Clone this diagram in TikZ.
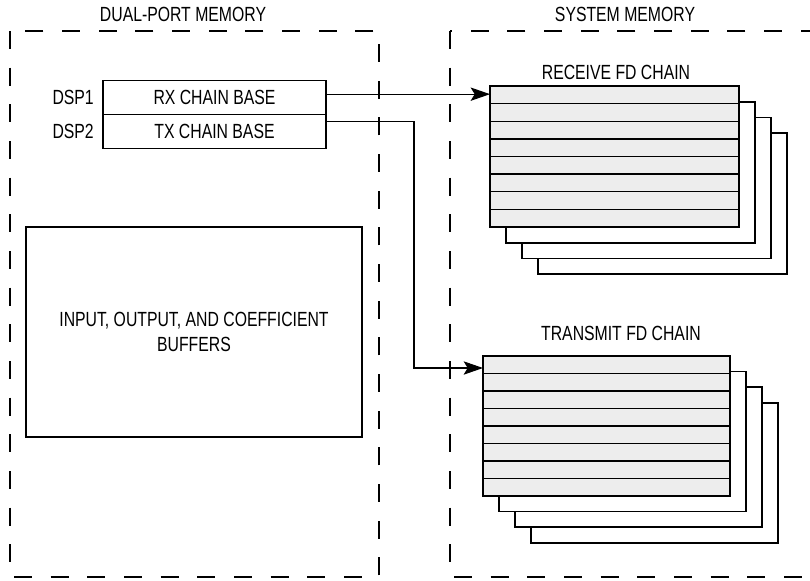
\documentclass[tikz,border=0pt]{standalone}
\usepackage{fontspec}
\setmainfont{Liberation Sans}[FakeStretch=0.77]
\usetikzlibrary{arrows.meta,calc}
\begin{document}
\begin{tikzpicture}[x=0.03cm,y=-0.03cm,
  font=\fontsize{17.5}{20}\selectfont,
  frame/.style={line width=1.7pt,dash pattern=on 0.54cm off 0.56cm},
  label/.style={inner sep=0pt},
  regbox/.style={draw,line width=1.5pt,inner sep=0pt,outer sep=0pt,minimum width=6.69cm,minimum height=1.02cm},
  bufbox/.style={draw,line width=1.5pt,inner sep=0pt,outer sep=0pt,minimum width=10.08cm,minimum height=6.3cm,align=center,font=\fontsize{17.5}{22}\selectfont},
  rxcard/.style={draw,line width=1.5pt,fill=white,inner sep=0pt,outer sep=0pt,minimum width=7.47cm,minimum height=4.23cm,anchor=north west},
  txcard/.style={draw,line width=1.5pt,fill=white,inner sep=0pt,outer sep=0pt,minimum width=7.41cm,minimum height=4.2cm,anchor=north west},
  front/.style={fill=gray!14},
  rowline/.style={line width=1.1pt},
  conn/.style={line width=0.9pt,-{Stealth[length=0.58cm,width=0.4cm,inset=0.12cm]}}
]
\useasboundingbox (0,0) rectangle (810,580);
\clip (0,0) rectangle (810,580);

% frames
\draw[frame] (10,31) rectangle (379,577);
\draw[frame] (450,31) rectangle (840,577);
\node[label] (dpm) at (183,14) {DUAL-PORT MEMORY};
\node[label] (sm) at (625,14) {SYSTEM MEMORY};

% chain base registers
\node[regbox] (rx) at (214.5,97.5) {RX CHAIN BASE};
\node[regbox] (tx) at (214.5,131.5) {TX CHAIN BASE};
\node[label,anchor=east] (dsp1) at (94,97.5) {DSP1};
\node[label,anchor=east] (dsp2) at (94,131.5) {DSP2};

% buffers
\node[bufbox] (buf) at (194,332) {INPUT, OUTPUT, AND COEFFICIENT\\BUFFERS};

% receive stack
\node[rxcard] (rx4) at (538,133) {};
\node[rxcard] (rx3) at (522,117.5) {};
\node[rxcard] (rx2) at (506,102) {};
\node[rxcard,front] (rxf) at (490,86) {};
\foreach \i in {1,...,7}
  \draw[rowline] ($(rxf.north west)!\i/8!(rxf.south west)$) -- ($(rxf.north east)!\i/8!(rxf.south east)$);
\node[label] (rxl) at (616,72) {RECEIVE FD CHAIN};

% transmit stack
\node[txcard] (tx4) at (531,403) {};
\node[txcard] (tx3) at (515,387) {};
\node[txcard] (tx2) at (499,371.5) {};
\node[txcard,front] (txf) at (483,356) {};
\foreach \i in {1,...,7}
  \draw[rowline] ($(txf.north west)!\i/8!(txf.south west)$) -- ($(txf.north east)!\i/8!(txf.south east)$);
\node[label] (txl) at (621,333) {TRANSMIT FD CHAIN};

% connectors
\coordinate (rxout) at ([yshift=0.1cm]rx.east);
\draw[conn] (rxout) -- (rxout -| rxf.west);
\coordinate (txout) at ([yshift=0.3cm]tx.east);
\coordinate (txin) at ([yshift=-0.36cm]txf.north west);
\coordinate (bendx) at (414,0);
\draw[conn] (txout) -- (txout -| bendx) -- (bendx |- txin) -- (txin);
\end{tikzpicture}
\end{document}
